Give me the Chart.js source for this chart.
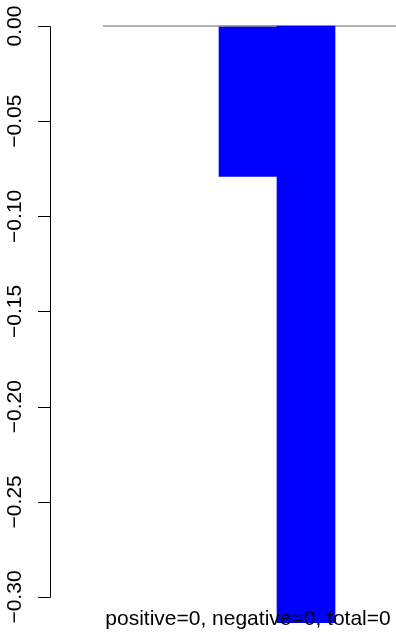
<!DOCTYPE html>
<html>
<head>
<meta charset="utf-8">
<script src="https://cdn.jsdelivr.net/npm/chart.js@4/dist/chart.umd.min.js"></script>
<style>
html,body{margin:0;padding:0;background:#fff;overflow:hidden;}
canvas{display:block;}
</style>
</head>
<body>
<canvas id="c" width="396" height="635"></canvas>
<script>
// Data
const barPositions = [3, 4];
const barValues = [-0.079, -0.32];
const zeroLineX = [0.5, 6];
const yTickValues = [0, -0.05, -0.10, -0.15, -0.20, -0.25, -0.30];
const yTickLabels = ["0.00", "\u22120.05", "\u22120.10", "\u22120.15", "\u22120.20", "\u22120.25", "\u22120.30"];
const footerText = "positive=0, negative=0, total=0";

const FONT = '"Liberation Sans", Arial, Helvetica, sans-serif';

const axisPlugin = {
  id: 'rAxis',
  afterDatasetsDraw(chart) {
    const ctx = chart.ctx;
    const y = chart.scales.y;
    const x = chart.scales.x;
    const left = chart.chartArea.left;
    ctx.save();
    ctx.strokeStyle = '#000';
    ctx.lineWidth = 1;
    ctx.beginPath();
    const yTop = Math.round(y.getPixelForValue(yTickValues[0])) + 0.5;
    const yBot = Math.round(y.getPixelForValue(yTickValues[yTickValues.length - 1])) + 0.5;
    ctx.moveTo(left + 0.5, yTop);
    ctx.lineTo(left + 0.5, yBot);
    yTickValues.forEach(v => {
      const py = Math.round(y.getPixelForValue(v)) + 0.5;
      ctx.moveTo(left + 0.5, py);
      ctx.lineTo(left - 12, py);
    });
    ctx.stroke();
    ctx.fillStyle = '#000';
    ctx.font = '21px ' + FONT;
    ctx.textAlign = 'center';
    ctx.textBaseline = 'alphabetic';
    yTickValues.forEach((v, i) => {
      const py = y.getPixelForValue(v);
      ctx.save();
      ctx.translate(21, py);
      ctx.rotate(-Math.PI / 2);
      ctx.fillText(yTickLabels[i], 0, 0);
      ctx.restore();
    });
    ctx.font = '21px ' + FONT;
    ctx.textAlign = 'center';
    ctx.fillText(footerText, x.getPixelForValue(barPositions[0]), 625);
    ctx.restore();
  }
};

new Chart(document.getElementById('c'), {
  type: 'bar',
  data: {
    datasets: [
      {
        type: 'bar',
        data: [{x: barPositions[0], y: barValues[0]}],
        backgroundColor: '#0000FF',
        borderWidth: 0,
        grouped: false,
        barPercentage: 1,
        categoryPercentage: 1,
        order: 3
      },
      {
        type: 'line',
        data: zeroLineX.map(v => ({x: v, y: 0})),
        borderColor: '#999999',
        borderWidth: 1.5,
        pointRadius: 0,
        fill: false,
        order: 2
      },
      {
        type: 'bar',
        data: [{x: barPositions[1], y: barValues[1]}],
        backgroundColor: '#0000FF',
        borderWidth: 0,
        grouped: false,
        barPercentage: 1,
        categoryPercentage: 1,
        order: 1
      }
    ]
  },
  options: {
    responsive: false,
    animation: false,
    devicePixelRatio: 1,
    layout: { padding: { left: 50, right: 0, top: 3, bottom: 12 } },
    plugins: { legend: { display: false }, tooltip: { enabled: false } },
    scales: {
      x: {
        type: 'linear',
        display: false,
        offset: false,
        min: -0.4138,
        max: 5.5517,
        ticks: { stepSize: 1, includeBounds: false }
      },
      y: {
        type: 'linear',
        display: false,
        min: -0.31366,
        max: 0.01208
      }
    }
  },
  plugins: [axisPlugin]
});
</script>
</body>
</html>
